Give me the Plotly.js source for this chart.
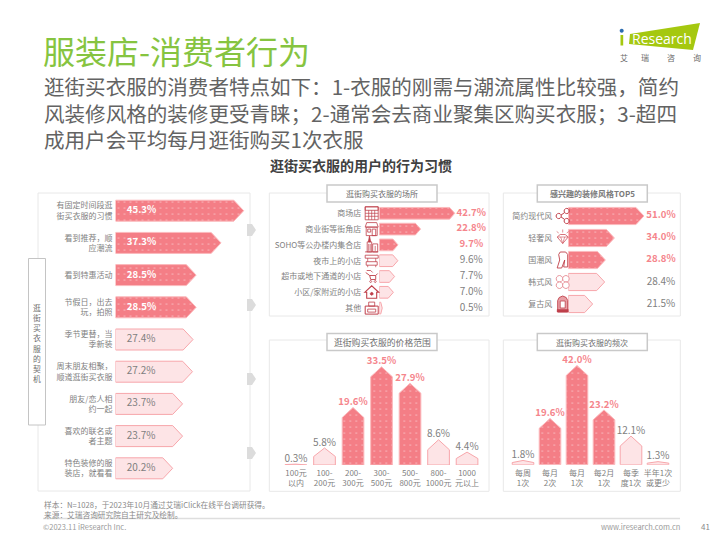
<!DOCTYPE html>
<html><head><meta charset="utf-8">
<script src="https://cdn.plot.ly/plotly-3.0.1.min.js"></script>
<style>html,body{margin:0;padding:0;background:#fff}#c{width:720px;height:540px}</style>
</head><body><div id="c"></div>
<script>
const FONT = '"Noto Sans CJK SC","Noto Sans",sans-serif';
const pageTitle = '服装店-消费者行为';
const subtitleLines = ['逛街买衣服的消费者特点如下：1-衣服的刚需与潮流属性比较强，简约','风装修风格的装修更受青睐；2-通常会去商业聚集区购买衣服；3-超四','成用户会平均每月逛街购买1次衣服'];
const chartHeading = '逛街买衣服的用户的行为习惯';
const sideTitle = '逛街买衣服的契机';

const motiveCats = ['有固定时间段逛<br>街买衣服的习惯','看到推荐，顺<br>应潮流','看到特惠活动','节假日，出去<br>玩，拍照','季节更替，当<br>季新装','周末朋友相聚，<br>顺道逛街买衣服','朋友/恋人相<br>约一起','喜欢的联名或<br>者主题','特色装修的服<br>装店，就看看'];
const motiveVals = [45.3,37.3,28.5,28.5,27.4,27.2,23.7,23.7,20.2];
const motiveHi = [0,1,2,3];

const placeTitle = '逛街购买衣服的场所';
const placeCats = ['商场店','商业街等街角店','SOHO等公办楼内集合店','夜市上的小店','超市或地下通道的小店','小区/家附近的小店','其他'];
const placeVals = [42.7,22.8,9.7,9.6,7.7,7.0,0.5];
const placeHi = [0,1,2];

const styleTitle = '感兴趣的装修风格TOP5';
const styleCats = ['简约现代风','轻奢风','国潮风','韩式风','复古风'];
const styleVals = [51.0,34.0,28.8,28.4,21.5];
const styleHi = [0,1,2];

const priceTitle = '逛街购买衣服的价格范围';
const priceCats = ['100元<br>以内','100-<br>200元','200-<br>300元','300-<br>500元','500-<br>800元','800-<br>1000元','1000<br>元以上'];
const priceVals = [0.3,5.8,19.6,33.5,27.9,8.6,4.4];
const priceHi = [2,3,4];

const freqTitle = '逛街购买衣服的频次';
const freqCats = ['每周<br>1次','每月<br>2次','每月<br>1次','每2月<br>1次','每季<br>度1次','半年1次<br>或更少'];
const freqVals = [1.8,19.6,42.0,23.2,12.1,1.3];
const freqHi = [1,2,3];

const C = {hi:'#f47e86', hiLine:'#fbb9bc', lo:'#fde4e6', loLine:'#f7a6ab', pink:'#f5858c', gray:'#7f7f7f', frame:'#e8e8e8', box:'#c9c9c9', icon:'#bf3f4a'};
const px = x => x/720, py = y => 1-y/540;
const idx = a => a.map((_,i)=>i);

function hPoly(vals, ids, base, tip, half){
  const x=[],y=[];
  ids.forEach(i=>{const v=vals[i],t=Math.min(tip,(v-base)*0.5);
    x.push(base,v-t,v,v-t,base,base,null); y.push(i-half,i-half,i,i+half,i+half,i-half,null);});
  return {x,y};
}
function vPoly(vals, ids, tip, half){
  const x=[],y=[];
  ids.forEach(i=>{const v=vals[i],t=Math.min(tip,v*0.5);
    x.push(i-half,i-half,i,i+half,i+half,i-half,null); y.push(0,v-t,v,v-t,0,0,null);});
  return {x,y};
}
function polyTrace(p, hi, ax){
  const t={type:'scatter',mode:'lines',x:p.x,y:p.y,xaxis:ax[0],yaxis:ax[1],fill:'toself',hoverinfo:'skip',showlegend:false,
    line:{color:hi?C.hiLine:C.loLine,width:1},fillcolor:hi?C.hi:C.lo};
  if(hi) t.fillpattern={shape:'.',fgcolor:'#ffffff',bgcolor:C.hi,size:6,solidity:0.03,fillmode:'replace'};
  return t;
}
function textTrace(x,y,str,color,bold,ax,pos){
  return {type:'scatter',mode:'text',x,y,text:str.map(s=>bold?'<b>'+s+'</b>':s),textposition:pos,cliponaxis:false,xaxis:ax[0],yaxis:ax[1],hoverinfo:'skip',showlegend:false,
    textfont:{family:FONT,size:bold?9.6:10,color}};
}
const pct = v => v.toFixed(1)+'%';
function split(vals,hi){const lo=idx(vals).filter(i=>!hi.includes(i));return {hi,lo};}

const traces=[];
function addH(vals,hi,ax,base,tip,half,labelX,white){
  const s=split(vals,hi);
  traces.push(polyTrace(hPoly(vals,s.hi,base,tip,half),true,ax));
  traces.push(polyTrace(hPoly(vals,s.lo,base,tip,half),false,ax));
  const pos=white?'middle right':'middle center';
  traces.push(textTrace(s.hi.map(()=>labelX),s.hi,s.hi.map(i=>pct(vals[i])),white?'#ffffff':C.pink,true,ax,pos));
  traces.push(textTrace(s.lo.map(()=>labelX),s.lo,s.lo.map(i=>pct(vals[i])),'#7f7f7f',false,ax,pos));
}
function addV(vals,hi,ax,tip,half){
  const s=split(vals,hi);
  traces.push(polyTrace(vPoly(vals,s.hi,tip,half),true,ax));
  traces.push(polyTrace(vPoly(vals,s.lo,tip,half),false,ax));
  traces.push(textTrace(s.hi,s.hi.map(i=>vals[i]),s.hi.map(i=>pct(vals[i])),C.pink,true,ax,'top center'));
  traces.push(textTrace(s.lo,s.lo.map(i=>vals[i]),s.lo.map(i=>pct(vals[i])),'#7f7f7f',false,ax,'top center'));
}
addH(motiveVals,motiveHi,['x','y'],0,3.5,0.326,4,true);
addH(placeVals,placeHi,['x2','y2'],-1.2,3,0.37,52.3,false);
addH(styleVals,styleHi,['x3','y3'],7.5,4.6,0.39,60.8,false);
addV(priceVals,priceHi,['x4','y4'],3.4,0.38);
addV(freqVals,freqHi,['x5','y5'],4.2,0.4);

const tf={family:FONT,size:8,color:'#7f7f7f'};
const hid={showgrid:false,zeroline:false,showline:false,showticklabels:false,ticks:'',fixedrange:true};
function ax(dom,range,extra,isY){
  const d=isY?[py(dom[1]),py(dom[0])]:[px(dom[0]),px(dom[1])];
  return Object.assign({},hid,{domain:d,range},extra||{});
}
function cat(vals,text,standoff,anchor){
  return {showticklabels:true,tickmode:'array',tickvals:idx(vals),ticktext:text,tickfont:tf,ticklabelstandoff:standoff,anchor,automargin:false};
}
const layout={width:720,height:540,margin:{l:0,r:0,t:0,b:0},paper_bgcolor:'#fff',plot_bgcolor:'rgba(0,0,0,0)',showlegend:false,font:{family:FONT},
  xaxis:ax([115.5,250],[0,134.5/2.83],{anchor:'y'}),
  yaxis:ax([193,491],[8.705,-0.55],cat(motiveVals,motiveCats,2,'x'),true),
  xaxis2:ax([379.3,489],[-1.2,62.6],{anchor:'y2'}),
  yaxis2:ax([193,316],[6.5,-1.285],cat(placeVals,placeCats,17,'x2'),true),
  xaxis3:ax([568.3,680.3],[7.5,71.9],{anchor:'y3'}),
  yaxis3:ax([193,316],[4.545,-1.045],cat(styleVals,styleCats,15,'x3'),true),
  xaxis4:ax([269.3,489],[-0.937,6.77],cat(priceVals,priceCats,2,'y4')),
  yaxis4:ax([340,465],[0,42.66],{anchor:'x4'},true),
  xaxis5:ax([503.3,680.3],[-0.73,5.826],cat(freqVals,freqCats,2,'y5')),
  yaxis5:ax([340,464.7],[0,52.8],{anchor:'x5'},true),
  shapes:[],annotations:[]};

function rect(x0,y0,x1,y1,line,fill,lw,layer){
  layout.shapes.push({type:'rect',xref:'paper',yref:'paper',x0:px(x0),x1:px(x1),y0:py(y0),y1:py(y1),line:{color:line,width:lw==null?1:lw},fillcolor:fill||'rgba(0,0,0,0)',layer:layer||'below'});
}
function poly(cx,cy,pts,stroke,fill,lw,closed){
  const d=pts.map((p,i)=>(i?'L':'M')+px(cx+p[0]).toFixed(5)+' '+py(cy+p[1]).toFixed(5)).join(' ')+(closed===false?'':' Z');
  layout.shapes.push({type:'path',xref:'paper',yref:'paper',path:d,line:{color:stroke,width:lw==null?0.8:lw},fillcolor:fill||'rgba(0,0,0,0)',layer:'above'});
}
function note(x,y,text,size,color,anchor,extra){
  layout.annotations.push(Object.assign({xref:'paper',yref:'paper',x:px(x),y:py(y),text,showarrow:false,xanchor:anchor||'left',yanchor:'middle',font:{family:FONT,size,color},borderpad:0},extra||{}));
}
const circ=(x,y,r)=>Array.from({length:12},(_,i)=>[x+r*Math.cos(i*Math.PI/6),y+r*Math.sin(i*Math.PI/6)]);
const box=(a,b,c,d)=>[[a,b],[c,b],[c,d],[a,d]];
const seg=(a,b,c,d)=>[[a,b],[c,d]];

// frames and panel title boxes
rect(38,193,250,491,C.frame,'#fff');
rect(269.3,193,489,316,C.frame,'#fff');
rect(503.3,193,680.3,316,C.frame,'#fff');
rect(269.3,340,489,491.3,C.frame,'#fff');
rect(503.3,340,680.3,491.3,C.frame,'#fff');
rect(28.5,258.5,45.5,425,'#c4c4c4','#fff',1);
rect(327,185,437,202,C.box,'#fff',1.5);
rect(537.3,185,647.3,202,C.box,'#fff',1.5);
rect(327,333.5,437,350.5,C.box,'#fff',1.5);
rect(537.3,333.5,647.3,350.5,C.box,'#fff',1.5);
note(382,193.5,placeTitle,8,'#6f6f6f','center');
note(592.3,193.5,'<b>'+styleTitle+'</b>',8,'#7a7a7a','center');
note(382,342,priceTitle,8.8,'#6f6f6f','center');
note(592.3,342,freqTitle,8,'#6f6f6f','center');
note(37,343,Array.from(sideTitle).join('<br>'),7.8,'#6f6f6f','center');

// connector chevrons
[230,305,379,453].forEach(y=>poly(247,y,[[0,-6],[5,-6],[9,0],[5,6],[0,6]],'rgba(0,0,0,0)','#dcdcdc',0));

// header
note(42,50,pageTitle,32,'#86c440');
note(43,112.5,subtitleLines.join('<br>'),20.55,'#636363','left',{align:'left'});
note(361,165,'<b>'+chartHeading+'</b>',14,'#404040','center');

// logo
poly(0,0,[[630,34],[700,23],[693,50],[629,44]],'#a5c80f','#a5c80f',0);
poly(0,0,circ(621.7,30.7,2),'#2b6cb0','#2b6cb0',0);
rect(620.5,35,623.2,45.5,'#a5c80f','#a5c80f',0,'above');
note(661.5,38,'Research',14,'#ffffff','center',{font:{family:'"Open Sans",sans-serif',size:14,color:'#ffffff'}});
[['艾',623.5],['瑞',645],['咨',671],['询',697]].forEach(a=>note(a[1],58,a[0],8,'#6a6a6a','center'));

// footer
note(43,509.5,'样本：N=1028，于2023年10月通过艾瑞iClick在线平台调研获得。<br>来源：艾瑞咨询研究院自主研究及绘制。',7.7,'#8a8a8a','left',{align:'left'});
rect(43,517.8,680,519.2,'#dedede','#dedede',0);
note(42,526.5,'©2023.11 iResearch Inc.',7.5,'#9a9a9a');
note(681,526.5,'www.iresearch.com.cn',7.5,'#9a9a9a','right');
note(705,526.5,'41',8,'#8a8a8a','center');

// place icons
const ix=371.7, iy=i=>213.3+15.8*i;
const ic=C.icon;
poly(ix,iy(0),box(-6.5,-6.5,6.5,6.5),ic);poly(ix,iy(0),box(-6.5,-6.5,6.5,-3),ic);
[-3,0,3].forEach(d=>poly(ix,iy(0),seg(d,-3,d,6.5),ic,null,0.7,false));
[0,3].forEach(d=>poly(ix,iy(0),seg(-6.5,d,6.5,d),ic,null,0.7,false));
poly(ix,iy(1),box(-5.5,-2,5.5,6.5),ic);poly(ix,iy(1),[[-6.5,-2],[-5,-6.5],[5,-6.5],[6.5,-2]],ic);poly(ix,iy(1),box(0.5,0,4,6.5),ic);poly(ix,iy(1),box(-4,0,-1,3),ic);
poly(ix,iy(2),box(-4.5,-3,0,7),ic);poly(ix,iy(2),box(1,-1,6,7),ic);poly(ix,iy(2),seg(-6.5,7,6.5,7),ic,null,0.9,false);poly(ix,iy(2),[[-3.3,-3],[-2.2,-9],[-1.1,-3]],ic,ic);
[-3,-1.5].forEach(d=>poly(ix,iy(2),seg(d,-1,d,6),ic,null,0.7,false));poly(ix,iy(2),seg(3.5,1,3.5,6),ic,null,0.7,false);
poly(ix,iy(3),box(-6.5,-5.5,6.5,-2.5),ic);poly(ix,iy(3),box(-5.5,1,5.5,4.5),ic);poly(ix,iy(3),seg(-4,-2.5,-4,1),ic,null,.7,false);poly(ix,iy(3),seg(4,-2.5,4,1),ic,null,.7,false);poly(ix,iy(3),seg(-4,4.5,-4,6.5),ic,null,.7,false);poly(ix,iy(3),seg(4,4.5,4,6.5),ic,null,.7,false);
poly(ix,iy(4),[[-6,-4],[-2,-1],[4,-1],[6,-3]],ic,null,0.9,false);poly(ix,iy(4),[[-2,-1],[-1,3],[4,3],[4,-1]],ic,null,0.9,false);poly(ix,iy(4),circ(-1,5,1),ic);poly(ix,iy(4),circ(3.5,5,1),ic);poly(ix,iy(4),[[-5,-6],[-1,-6],[1,-4]],ic,null,0.8,false);
poly(ix,iy(5),[[-7,0],[0,-6.5],[7,0],[5,0],[5,6],[-5,6],[-5,0]],ic,null,1.1);poly(ix,iy(5),circ(0,1.5,1.4),ic,ic);
poly(ix,iy(6),box(-6.5,-2,6.5,6),ic,null,1);poly(ix,iy(6),box(-3,-6,3,-2),ic);poly(ix,iy(6),box(-4,1,4,4),ic);

// style icons
const jx=562.7, jy=i=>216+22*i;
poly(jx,jy(0),circ(4,-5,2.6),ic,null,1);poly(jx,jy(0),circ(4,5,2.6),ic,null,1);poly(jx,jy(0),circ(-4,0,2.6),ic,null,1);
poly(jx,jy(0),seg(-1.6,-1,2,-3.5),ic,null,1,false);poly(jx,jy(0),seg(-1.6,1,2,3.5),ic,null,1,false);
poly(jx,jy(1),[[-5.5,-1],[-2.5,-3.5],[2.5,-3.5],[5.5,-1],[0,5.5]],'#d2636c',null,.9);poly(jx,jy(1),[[-5.5,-1],[5.5,-1]],'#d2636c',null,.7,false);poly(jx,jy(1),[[-2,-1],[0,5.5],[2,-1]],'#d2636c',null,.7,false);
[[-6,-6.5,-4,-5],[0,-8.5,0,-5.5],[6,-6.5,4,-5]].forEach(a=>poly(jx,jy(1),seg(a[0],a[1],a[2],a[3]),'#d2636c',null,.7,false));
poly(jx,jy(2),[[-2.5,-8],[3,-8],[5,-5.5],[5,7],[1,7],[2,0],[-1,8],[-5.5,8],[-3,0],[-4,-5.5]],ic,null,.9);
[[-3.2,-3.2],[3.2,-3.2],[-3.2,3.2],[3.2,3.2]].forEach(c=>poly(jx,jy(3),circ(c[0],c[1],3.3),'#e58a92','#fff',.9));
poly(jx,jy(4),[[-5,8],[-5,-3.5],[-3.5,-6.5],[0,-8],[3.5,-6.5],[5,-3.5],[5,8]],ic,'#e8a0a6',.9);poly(jx,jy(4),box(-2.5,-3,2.5,4),ic,'#fff',.8);poly(jx,jy(4),box(-5.5,5.5,5.5,8),ic,ic,.5);

Plotly.newPlot('c',traces,layout,{staticPlot:true,displayModeBar:false});
</script></body></html>
